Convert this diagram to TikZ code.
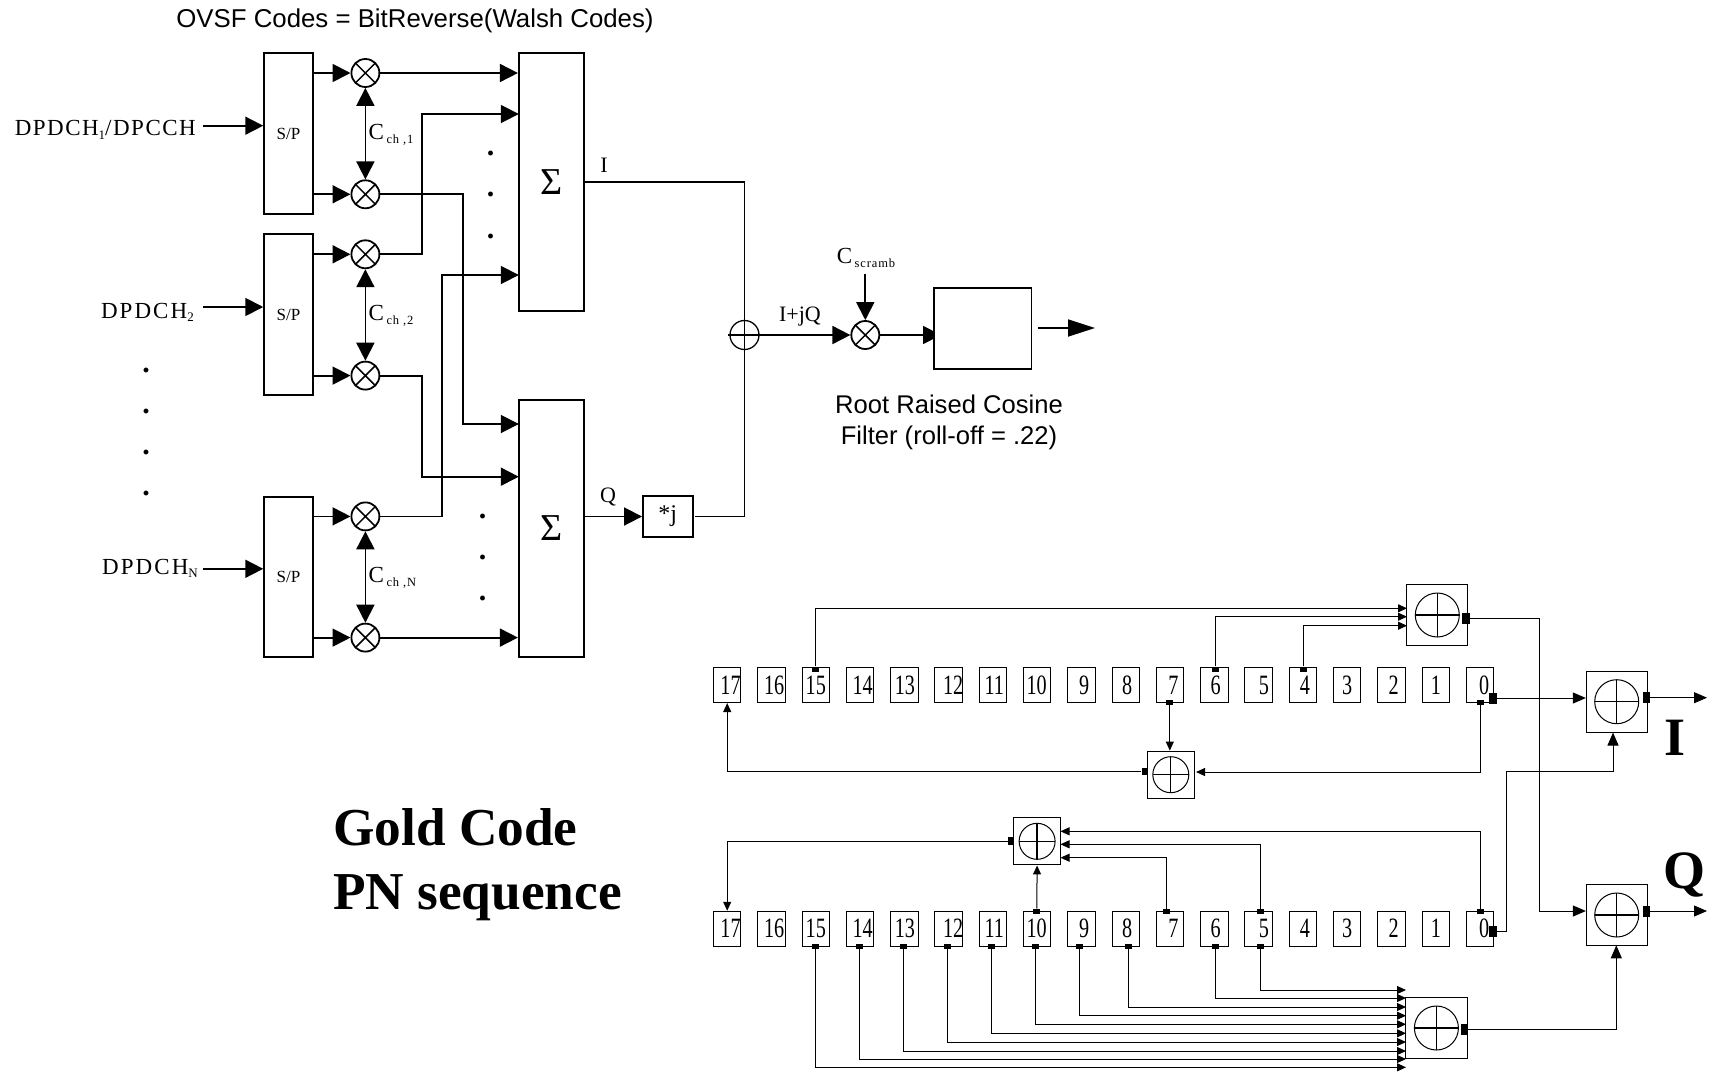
\documentclass[tikz,border=0pt]{standalone}
\usepackage{fontspec}
\usepackage{graphicx}
\setmainfont{Liberation Serif}
\newfontfamily\arialf{Liberation Sans}
\newfontfamily\spcf[LetterSpace=6.5]{Liberation Serif}
\newfontfamily\spcg[LetterSpace=9]{Liberation Serif}
\newfontfamily\subf[LetterSpace=7]{Liberation Serif}
\usetikzlibrary{arrows.meta,calc}
\newcommand\fsz[1]{\fontsize{#1}{#1}\selectfont}
\newcommand\lowtxt[1]{\raisebox{-3.5pt}{\subf\fsz{13}#1}}
\newcommand\lowgap[1]{\hspace{2.5pt}\raisebox{-3.5pt}{\subf\fsz{12.5}#1}}
\newcommand\narrow[1]{\scalebox{.72}[1]{#1}}
\tikzset{
  wire/.style={line width=1.8pt,black},
  big/.style={wire,-{Triangle[length=18pt,width=18pt]}},
  bothbig/.style={wire,{Triangle[length=18pt,width=18pt]}-{Triangle[length=18pt,width=18pt]}},
  fine/.style={line width=1pt,black},
  tipa/.style={fine,-{Triangle[length=9pt,width=8pt]}},
  tipb/.style={fine,-{Triangle[length=13pt,width=11pt]}},
  blockbox/.style={draw,line width=1.8pt,inner sep=0pt},
  mult/.style={circle,draw,line width=1.8pt,inner sep=0pt,minimum size=28pt,fill=white,
    path picture={\draw[line width=1.5pt] (path picture bounding box.north west)--(path picture bounding box.south east)
      (path picture bounding box.north east)--(path picture bounding box.south west);}},
  plusc/.style={circle,draw,line width=1.3pt,inner sep=0pt,fill=white,
    path picture={\draw[line width=1.3pt] (path picture bounding box.north)--(path picture bounding box.south)
      (path picture bounding box.west)--(path picture bounding box.east);}},
  cellbox/.style={draw,line width=1pt,inner sep=0pt,minimum width=27.4pt,minimum height=35.5pt},
  digit/.style={inner sep=0pt,font=\fsz{28}},
  addbox/.style={draw,line width=1pt,inner sep=0pt,fill=white},
  port/.style={fill=black,inner sep=0pt,minimum width=7pt,minimum height=5pt},
  bport/.style={fill=black,inner sep=0pt,minimum width=7.5pt,minimum height=11pt},
  sertxt/.style={inner sep=0pt,font=\spcf\fsz{23}},
  sertxg/.style={inner sep=0pt,font=\spcg\fsz{23}},
  dotm/.style={inner sep=0pt,anchor=base,font=\bfseries\fsz{30}},
}
\begin{document}
\begin{tikzpicture}[x=1pt,y=-1pt]
\useasboundingbox (0,0) rectangle (1712,1071);
% ---------- S/P
\foreach \nm/\yt/\yb in {sp1/52.7/214.3,sp2/234.3/395,sp3/496.8/657}{
  \node[blockbox,minimum width=48.7pt,minimum height={(\yb-\yt)*1pt}] (\nm) at (288.5,{(\yt+\yb)/2}) {};
}
\node[inner sep=0pt,font=\fsz{17}] (spl1) at (288.5,133.6) {S/P};
\node[inner sep=0pt,font=\fsz{17}] (spl2) at (288.5,314.5) {S/P};
\node[inner sep=0pt,font=\fsz{17}] (spl3) at (288.5,576.5) {S/P};
% multipliers
\foreach \nm/\yy in {m1/73,m2/194.3,m3/254.3,m4/375.6,m5/516.4,m6/637.6}{
  \node[mult] (\nm) at (365.4,\yy) {};
}
% sums
\node[blockbox,minimum width=64.8pt,minimum height=258.3pt,font=\fsz{38}] (s1) at (551.2,181.85) {Σ};
\node[blockbox,minimum width=64.8pt,minimum height=257.4pt,font=\fsz{38}] (s2) at (551.2,528.3) {Σ};
% inputs
\node[sertxt,anchor=east] (d1) at (196,130) {DPDCH\lowtxt{1}/DPCCH};
\node[sertxg,anchor=east] (d2) at (194,312.5) {DPDCH\lowtxt{2}};
\node[sertxg,anchor=east] (d3) at (198,568.5) {DPDCH\lowtxt{N}};
\coordinate (i1) at (203,125.7);
\coordinate (i2) at (203,307);
\coordinate (i3) at (203,568.8);
\draw[big] (i1) -- (sp1.west |- i1);
\draw[big] (i2) -- (sp2.west |- i2);
\draw[big] (i3) -- (sp3.west |- i3);
\foreach \sp/\m in {sp1/m1,sp1/m2,sp2/m3,sp2/m4,sp3/m5,sp3/m6}{
  \draw[big] (\sp.east |- \m) -- (\m);
}
\draw[bothbig] (m1) -- (m2);
\draw[bothbig] (m3) -- (m4);
\draw[bothbig] (m5) -- (m6);
\node[inner sep=0pt,anchor=west,font=\fsz{23}] (c1) at (368.5,135) {C\lowgap{ch ,1}};
\node[inner sep=0pt,anchor=west,font=\fsz{23}] (c2) at (368.5,316) {C\lowgap{ch ,2}};
\node[inner sep=0pt,anchor=west,font=\fsz{23}] (c3) at (368.5,578) {C\lowgap{ch ,N}};
% routes into sums
\coordinate (ta) at (518.8,114);
\coordinate (tb) at (518.8,275);
\coordinate (tc) at (518.8,424);
\coordinate (td) at (518.8,476.7);
\draw[big] (m1) -- (s1.west |- m1);
\draw[big] (m3) -- (422.3,254.3) |- (ta);
\draw[big] (m5) -- (442,516.4) |- (tb);
\draw[big] (m2) -- (462.6,194.3) |- (tc);
\draw[big] (m4) -- (422.3,375.6) |- (td);
\draw[big] (m6) -- (s2.west |- m6);
% outputs
\coordinate (jc) at (744.5,335);
\node[blockbox,minimum width=49.7pt,minimum height=40.4pt,font=\fsz{24}] (jb) at (667.8,516.5) {*j};
\draw[wire] (s1.east |- 0,182) -- (744.5,182) -- (jc);
\draw[big] (s2.east |- jb) -- (jb);
\coordinate (jo) at (695,516.5);
\draw[wire] (jo) -- (744.5,516.5) -- (jc);
\node[plusc,minimum size=29pt,fill=none] (pl) at (jc) {};
\coordinate (pw) at (727.8,335);
\node[mult] (ms) at (865.3,335) {};
\draw[big] (pw) -- (ms);
\node[inner sep=0pt,font=\fsz{22}] (li) at (604,165) {I};
\node[inner sep=0pt,font=\fsz{22}] (lq) at (608,497) {Q};
\node[inner sep=0pt,font=\fsz{22}] (lij) at (800,317) {I+jQ};
\node[inner sep=0pt,font=\fsz{23}] (lsc) at (866,258) {C\lowgap{scramb}};
\coordinate (sc) at (865.3,274);
\draw[big] (sc) -- (ms);
\coordinate (rt) at (941,335);
\draw[big] (ms) -- (rt);
\node[blockbox,fill=white,minimum width=97.4pt,minimum height=81pt] (rrc) at (982.7,328.2) {};
\coordinate (o1) at (1038.4,328);
\coordinate (o2) at (1095,328);
\draw[wire,-{Triangle[length=27pt,width=17pt]}] (o1) -- (o2);
\node[inner sep=0pt,align=center,font=\arialf\fontsize{25.6}{31}\selectfont] (rrt) at (949,422.3) {Root Raised Cosine\\Filter (roll-off = .22)};
\node[inner sep=0pt,font=\arialf\fsz{25.8}] (ovsf) at (415,21) {OVSF Codes = BitReverse(Walsh Codes)};
% dots
\foreach \nm/\xx/\yy in {da/146/372,db/146/413,dc/146/454,dd/146/495,de/490.7/155,df/490.7/196,dg/490.7/238,dh/482.6/518,di/482.6/559,dj/482.6/600}{
  \node[dotm] (\nm) at (\xx,\yy) {.};
}
% Gold code
\node[inner sep=0pt,anchor=west,align=left,font=\bfseries\fontsize{53.3}{64}\selectfont] (gold) at (333,864.5) {Gold Code\\PN sequence};
\node[inner sep=0pt,font=\bfseries\fsz{54}] (bigi) at (1675,738) {I};
\node[inner sep=0pt,font=\bfseries\fsz{54}] (bigq) at (1684,875) {Q};
% ---------- registers
\foreach \n/\o in {17/3.3,16/2.6,15/0,14/2.6,13/.6,12/4.5,11/1.3,10/-.6,9/2.6,8/1.3,7/3.3,6/1.3,5/5.2,4/2,3/0,2/2,1/0,0/4}{
  \pgfmathsetmacro\xc{727.2+(17-\n)*44.29}
  \pgfmathsetmacro\xd{\xc+\o}
  \node[cellbox] (t\n) at (\xc,684.8) {};
  \node[cellbox] (b\n) at (\xc,929) {};
  \node[digit] (td\n) at (\xd,685) {\narrow{\n}};
  \node[digit] (bd\n) at (\xd,928) {\narrow{\n}};
}
% adders
\node[addbox,minimum width=60.7pt,minimum height=60.6pt] (a1) at (1437.3,615) {};
\node[plusc,minimum size=44pt,line width=1pt] (a1c) at (a1) {};
\node[addbox,minimum width=46.4pt,minimum height=47.3pt] (a2) at (1170.8,774.7) {};
\node[plusc,minimum size=36pt,line width=1pt] (a2c) at (a2) {};
\node[addbox,minimum width=47.7pt,minimum height=47.3pt] (a3) at (1037.1,841.3) {};
\node[plusc,minimum size=36pt,line width=1pt] (a3c) at (a3) {};
\node[addbox,minimum width=61.2pt,minimum height=60.6pt] (a4) at (1436.4,1028) {};
\node[plusc,minimum size=44pt,line width=1pt] (a4c) at (a4) {};
\node[addbox,minimum width=60.7pt,minimum height=60.7pt] (bi) at (1616.7,701.7) {};
\node[plusc,minimum size=44pt,line width=1pt] (bic) at (bi) {};
\node[addbox,minimum width=60.7pt,minimum height=60.6pt] (bq) at (1616.7,915) {};
\node[plusc,minimum size=44pt,line width=1pt] (bqc) at (bq) {};
% top row ports
\foreach \nm/\xx in {p15/815.2,p6/1215.4,p4/1303.4}{ \node[port] (\nm) at (\xx,669) {}; }
\node[port] (p7d) at (1169.8,702) {};
\node[port] (p0d) at (1480,702) {};
\node[bport] (p0r) at (1493,698) {};
\node[bport] (a1o) at (1466,618.3) {};
\node[bport] (bio) at (1646.5,697.7) {};
\node[bport,minimum width=6pt,minimum height=7pt] (a2o) at (1144.5,771.7) {};
% top feeds
\coordinate (a1i1) at (1407,608.3);
\coordinate (a1i2) at (1407,616.7);
\coordinate (a1i3) at (1407,625.7);
\draw[tipa] (p15) |- (a1i1);
\draw[tipa] (p6) |- (a1i2);
\draw[tipa] (p4) |- (a1i3);
\draw[tipb] (p0r) -- (bi.west |- p0r);
\coordinate (ie) at (1707,697.7);
\draw[tipb] (bio) -- (ie);
\draw[tipa] (p7d) -- (p7d |- a2.north);
\coordinate (a2e) at (1196,772);
\draw[tipa] (p0d) |- (a2e);
\draw[tipa] (a2o) -| (t17.south);
% lower row
\foreach \nm/\xx in {q0/1480,q5/1260.4,q7/1166.5,q10/1036.8}{ \node[port] (\nm) at (\xx,911.3) {}; }
\node[bport] (q0r) at (1493,931) {};
\node[bport,minimum width=6pt,minimum height=8pt] (a3o) at (1010.8,841.3) {};
\draw[tipa] (a3o) -| (b17.north);
\draw[tipa] (q10) -- (a3.south);
\coordinate (a3i1) at (1060.5,831.3);
\coordinate (a3i2) at (1060.5,844.3);
\coordinate (a3i3) at (1060.5,857.7);
\draw[tipa] (q0) |- (a3i1);
\draw[tipa] (q5) |- (a3i2);
\draw[tipa] (q7) |- (a3i3);
% bottom feeds
\foreach \nm/\xx/\yy in {r5/1260.4/990,r6/1215.4/998,r8/1128/1007,r9/1079.2/1015.7,r10/1035.5/1024.3,r11/991/1033.3,r12/947.5/1042,r13/903.2/1051,r14/859.5/1059,r15/815.2/1067.3}{
  \node[port] (\nm) at (\xx,946) {};
  \coordinate (\nm e) at (1406,\yy);
  \draw[tipa] (\nm) |- (\nm e);
}
% output crossings
\node[bport] (bqo) at (1646.5,911) {};
\coordinate (qe) at (1707,911);
\draw[tipb] (bqo) -- (qe);
\node[bport] (a4o) at (1464.5,1029.7) {};
\draw[tipb] (a4o) -| (1616.3,945.3);
\coordinate (bie) at (1613,771);
\draw[tipb] (q0r) -- (1506.8,931) |- (bie) -- (bi.south -| bie);
\draw[tipb] (a1o) -- (1539.4,618.3) |- (bq.west |- 0,911);
\end{tikzpicture}
\end{document}
